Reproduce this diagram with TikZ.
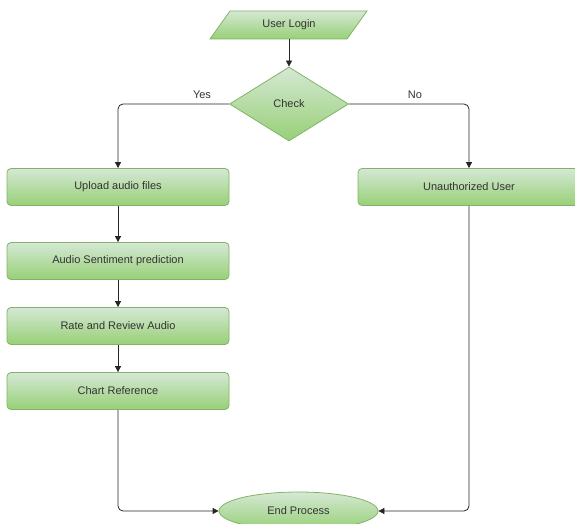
\documentclass[tikz,border=0pt]{standalone}
\usepackage{fontspec}
\setmainfont{Liberation Sans}
\usetikzlibrary{shapes.geometric,arrows.meta}
\definecolor{gstroke}{HTML}{82B366}
\definecolor{gtop}{HTML}{D5E8D4}
\definecolor{gbot}{HTML}{97D077}
\definecolor{txt}{HTML}{333333}
\tikzset{
  x=1pt,y=-1pt,
  greenfill/.style={draw=gstroke,line width=0.8pt,top color=gtop,bottom color=gbot},
  procbox/.style={greenfill,rounded corners=4pt,minimum width=222pt,minimum height=37pt,inner sep=0pt,font=\fontsize{11}{13}\selectfont,text=txt},
  conn/.style={draw=black!85,line width=0.8pt,rounded corners=5pt,-{Triangle[length=6pt,width=6pt]}},
  lbl/.style={font=\fontsize{11}{13}\selectfont,text=txt,inner sep=0pt},
}
\begin{document}
\begin{tikzpicture}
\useasboundingbox (0,0) rectangle (575,524);
\begin{scope}
\clip (0,0) rectangle (575,524);
% User Login parallelogram
\path[greenfill] (230,11) -- (367,11) -- (347,39) -- (210,39) -- cycle;
\node[lbl,minimum width=137pt,minimum height=28pt] (login) at (289,25) {User Login};
% decision
\node[greenfill,diamond,aspect=1.6,minimum width=119pt,minimum height=74pt,inner sep=0pt,lbl] (check) at (289,104) {Check};
% boxes
\node[procbox] (upload) at (118,187) {Upload audio files};
\node[procbox] (sent) at (118,261) {Audio Sentiment prediction};
\node[procbox] (rate) at (118,326) {Rate and Review Audio};
\node[procbox] (chart) at (118,391) {Chart Reference};
\node[procbox] (unauth) at (469,187) {Unauthorized User};
\node[greenfill,ellipse,minimum width=159pt,minimum height=38pt,inner sep=0pt,lbl] (endp) at (298.5,511) {End Process};
% connectors
\draw[conn] (login.south) -- (check.north);
\draw[conn] (check.west) -| (upload.north);
\draw[conn] (check.east) -| (unauth.north);
\draw[conn] (upload) -- (sent);
\draw[conn] (sent) -- (rate);
\draw[conn] (rate) -- (chart);
\draw[conn] (chart.south) |- (endp.west);
\draw[conn] (unauth.south) |- (endp.east);
\node[lbl] (yes) at (202,95) {Yes};
\node[lbl] (no) at (415,95) {No};
\end{scope}
\end{tikzpicture}
\end{document}
